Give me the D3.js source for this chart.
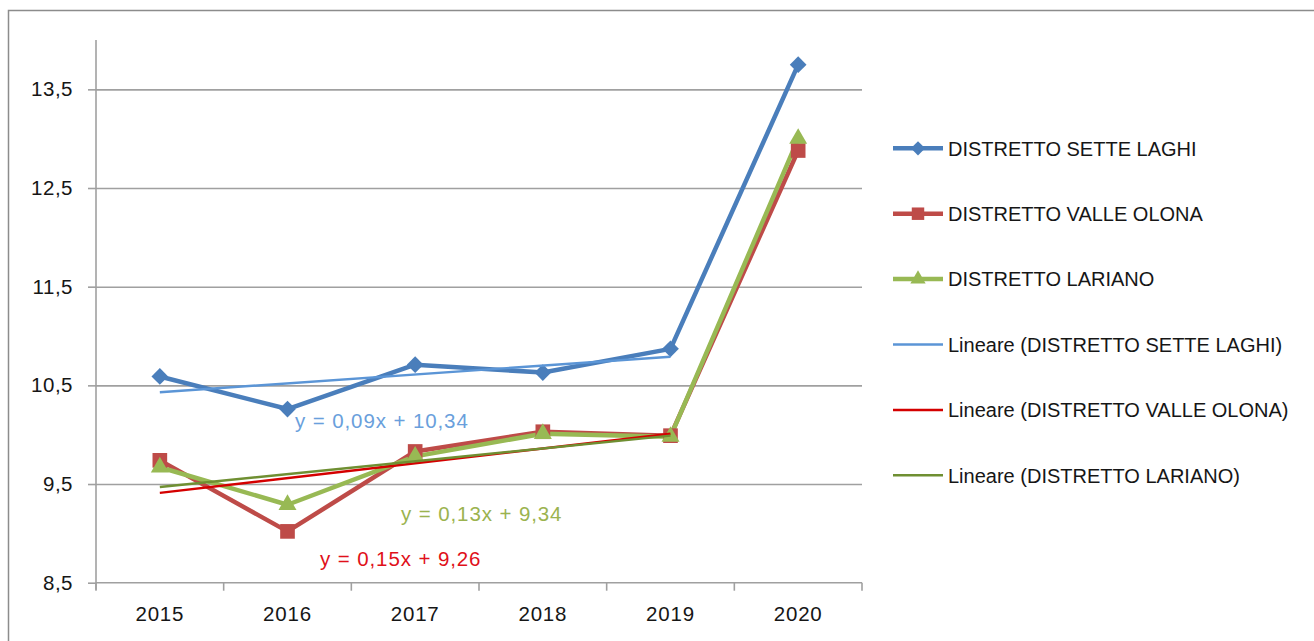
<!DOCTYPE html>
<html>
<head>
<meta charset="utf-8">
<script src="https://cdn.jsdelivr.net/npm/d3@7"></script>
<style>
  html, body { margin: 0; padding: 0; background: #ffffff; }
  svg { display: block; }
  text { font-family: "Liberation Sans", Arial, sans-serif; }
</style>
</head>
<body>
<svg id="chart" width="1314" height="641"></svg>
<script>
// Categories and values
const years = ["2015", "2016", "2017", "2018", "2019", "2020"];
const setteLaghi = [10.59, 10.26, 10.71, 10.63, 10.87, 13.75];
const valleOlona = [9.74, 9.02, 9.83, 10.03, 9.99, 12.88];
const lariano = [9.67, 9.29, 9.78, 10.01, 9.98, 13.0];
const seriesNames = ["DISTRETTO SETTE LAGHI", "DISTRETTO VALLE OLONA", "DISTRETTO LARIANO"];

// Linear trends (fitted on 2015–2019, x = 1..5)
const trendSlopes = [0.09, 0.15, 0.13];
const trendIntercepts = [10.34, 9.26, 9.34];
const trendRange = [1, 5];

const yTicks = [8.5, 9.5, 10.5, 11.5, 12.5, 13.5];

const svg = d3.select("#chart");
const plot = { left: 96, right: 862, top: 40, bottom: 582.7 };

const x = d3.scaleBand().domain(years).range([plot.left, plot.right]);
const xc = d => x(d) + x.bandwidth() / 2;
const y = d3.scaleLinear().domain([8.5, 14]).range([plot.bottom, plot.top]);
const fmt = v => String(v).replace(".", ",");
const fmt2 = v => v.toFixed(2).replace(".", ",");

const axisGrey = "#a0a0a0";
const textColor = "#161616";

// outer frame
svg.append("rect")
  .attr("x", 8.5).attr("y", 10.5)
  .attr("width", 1340).attr("height", 700)
  .attr("fill", "none").attr("stroke", "#8c8c8c").attr("stroke-width", 1.5);

// horizontal gridlines
svg.append("g")
  .attr("transform", `translate(${plot.left},0)`)
  .call(d3.axisLeft(y).tickValues(yTicks.slice(1)).tickSize(-(plot.right - plot.left)).tickFormat(""))
  .call(g => g.select(".domain").remove())
  .call(g => g.selectAll("line").attr("stroke", axisGrey).attr("stroke-width", 1.6));

// y axis
svg.append("g")
  .attr("transform", `translate(${plot.left},0)`)
  .call(d3.axisLeft(y).tickValues(yTicks).tickSize(8).tickPadding(15).tickFormat(fmt))
  .call(g => g.select(".domain").attr("d", `M0,${plot.top}V${plot.bottom + 7}`).attr("stroke", axisGrey).attr("stroke-width", 1.6))
  .call(g => g.selectAll("line").attr("stroke", axisGrey).attr("stroke-width", 1.6))
  .call(g => g.selectAll("text").attr("fill", textColor).attr("font-size", 20.5)
    .style("letter-spacing", "0.5px").attr("font-family", "Liberation Sans, Arial, sans-serif"));

// x axis
const xAxis = svg.append("g").attr("transform", `translate(0,${plot.bottom})`);
xAxis.call(d3.axisBottom(x).tickSize(0).tickPadding(24))
  .call(g => g.select(".domain").attr("d", `M${plot.left},0H${plot.right}`).attr("stroke", axisGrey).attr("stroke-width", 1.6))
  .call(g => g.selectAll("text").attr("fill", textColor).attr("font-size", 20.5)
    .style("letter-spacing", "0.8px").attr("font-family", "Liberation Sans, Arial, sans-serif"));
const boundaries = years.map(d => x(d)).concat([plot.right]);
xAxis.selectAll("line.bnd").data(boundaries).join("line")
  .attr("class", "bnd")
  .attr("x1", d => d).attr("x2", d => d)
  .attr("y1", 0).attr("y2", 8)
  .attr("stroke", axisGrey).attr("stroke-width", 1.6);

// series definitions
const series = [
  { name: seriesNames[0], values: setteLaghi, color: "#4a7ebb", trend: "#5b95d6", label: "#6a9fdc", shape: "diamond" },
  { name: seriesNames[1], values: valleOlona, color: "#be4b48", trend: "#d40000", label: "#e0101a", shape: "square" },
  { name: seriesNames[2], values: lariano, color: "#98b954", trend: "#6f8f32", label: "#9bb34f", shape: "triangle" }
];

function marker(sel, shape, color, scale) {
  const k = scale || 1;
  if (shape === "diamond") {
    sel.append("path").attr("d", d3.symbol(d3.symbolSquare, 140 * k * k)()).attr("transform", "rotate(45)").attr("fill", color);
  } else if (shape === "square") {
    sel.append("path").attr("d", d3.symbol(d3.symbolSquare, 215 * k * k)()).attr("fill", color);
  } else {
    sel.append("path").attr("d", d3.symbol(d3.symbolTriangle, 140 * k * k)()).attr("fill", color);
  }
}

const line = d3.line().x((d, i) => xc(years[i])).y(d => y(d));

// data lines with markers
series.forEach(s => {
  svg.append("path").datum(s.values)
    .attr("d", line)
    .attr("fill", "none").attr("stroke", s.color)
    .attr("stroke-width", 4.5).attr("stroke-linejoin", "round");
});
series.forEach(s => {
  const g = svg.append("g");
  s.values.forEach((v, i) => {
    const m = g.append("g").attr("transform", `translate(${xc(years[i])},${y(v)})`);
    marker(m, s.shape, s.color);
  });
});

// trend lines
series.forEach((s, k) => {
  const pts = trendRange.map(t => [xc(years[t - 1]), y(trendSlopes[k] * t + trendIntercepts[k])]);
  svg.append("line")
    .attr("x1", pts[0][0]).attr("y1", pts[0][1])
    .attr("x2", pts[1][0]).attr("y2", pts[1][1])
    .attr("stroke", s.trend).attr("stroke-width", 2.4);
});

// trend equations
const eqPos = [[295, 428], [320, 566], [401, 521]];
series.forEach((s, k) => {
  svg.append("text")
    .attr("x", eqPos[k][0]).attr("y", eqPos[k][1])
    .attr("fill", s.label).attr("font-size", 20.5)
    .style("letter-spacing", "0.9px")
    .text(`y = ${fmt2(trendSlopes[k])}x + ${fmt2(trendIntercepts[k])}`);
});

// legend
const legend = svg.append("g");
const legendRows = series.map(s => ({ kind: "series", s, text: s.name }))
  .concat(series.map(s => ({ kind: "trend", s, text: `Lineare (${s.name})` })));
legendRows.forEach((r, i) => {
  const cy = 148.3 + i * 65.4;
  const g = legend.append("g").attr("transform", `translate(0,${cy})`);
  g.append("line").attr("x1", 893).attr("x2", 943).attr("y1", 0).attr("y2", 0)
    .attr("stroke", r.kind === "series" ? r.s.color : r.s.trend)
    .attr("stroke-width", r.kind === "series" ? 4.5 : 2.5);
  if (r.kind === "series") {
    const m = g.append("g").attr("transform", "translate(918,0)");
    marker(m, r.s.shape, r.s.color, 0.85);
  }
  g.append("text").attr("x", 948).attr("y", 0).attr("dy", "0.36em")
    .attr("fill", textColor).attr("font-size", 20).text(r.text);
});
</script>
</body>
</html>
